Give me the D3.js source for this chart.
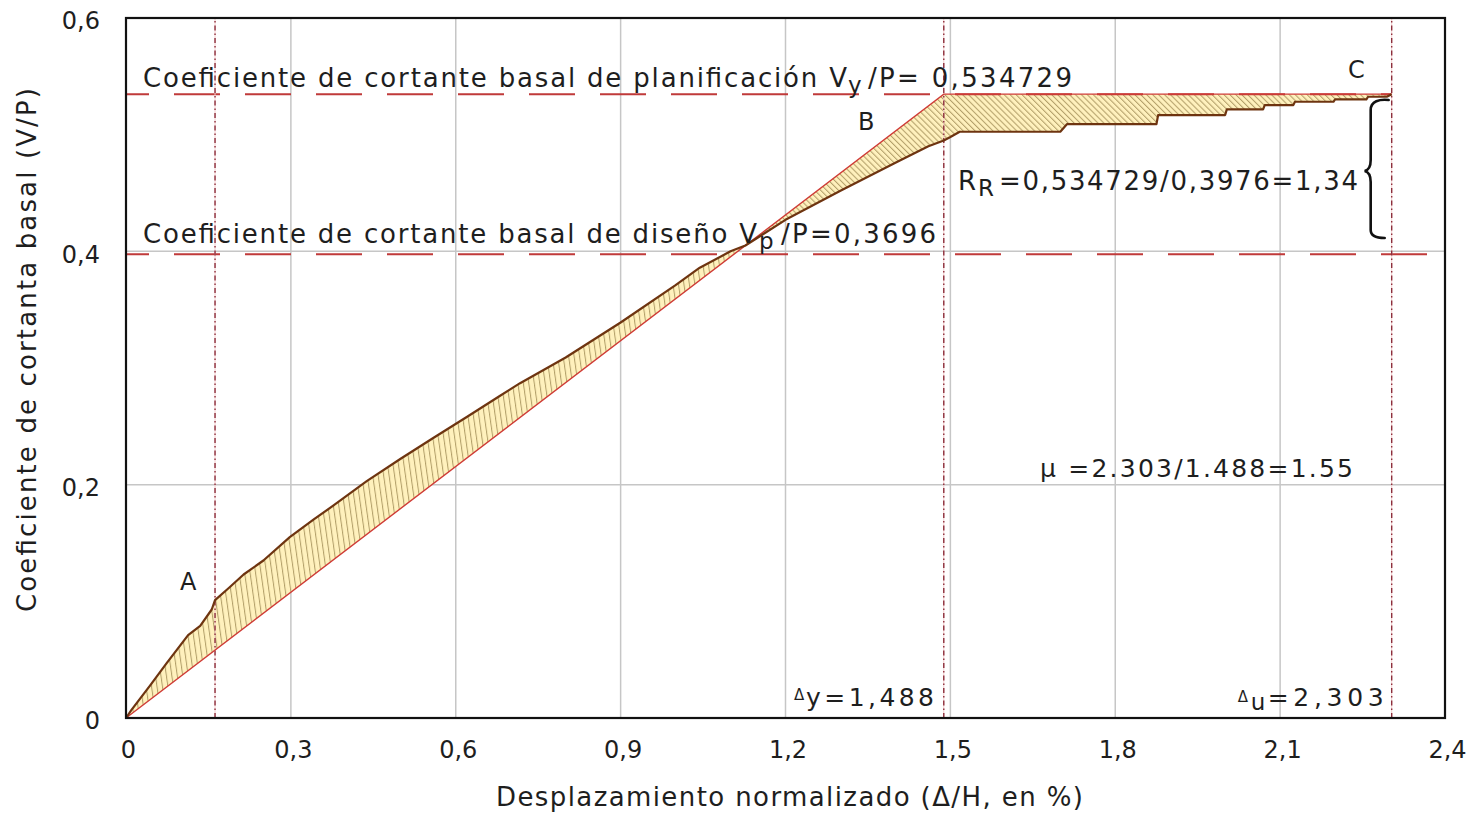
<!DOCTYPE html>
<html>
<head>
<meta charset="utf-8">
<script src="https://cdn.jsdelivr.net/npm/d3@7"></script>
<style>
  html, body { margin: 0; padding: 0; background: #ffffff; }
  svg { display: block; }
  text { font-family: "DejaVu Sans", Verdana, sans-serif; fill: #1e1e1e; }
</style>
</head>
<body>
<svg id="chart" width="1471" height="818"></svg>
<script>
// Capacity (pushover) curve: normalized roof drift (%) vs base-shear coefficient V/P
const driftPct = [0, 0.01, 0.044, 0.074, 0.113, 0.135, 0.156, 0.162, 0.186, 0.214, 0.25, 0.298,
  0.341, 0.377, 0.438, 0.499, 0.559, 0.62, 0.68, 0.717, 0.80, 0.90, 1.00, 1.044, 1.10, 1.127,
  1.20, 1.30, 1.40, 1.46, 1.488, 1.50, 1.517, 1.70, 1.712, 1.875, 1.878, 2.00, 2.003, 2.069,
  2.072, 2.124, 2.127, 2.197, 2.20, 2.257, 2.26, 2.294, 2.303];
const shearCoef = [0, 0.007, 0.028, 0.047, 0.071, 0.079, 0.093, 0.101, 0.111, 0.123, 0.135, 0.155,
  0.170, 0.182, 0.203, 0.222, 0.240, 0.258, 0.276, 0.287, 0.309, 0.339, 0.371, 0.386, 0.400, 0.405,
  0.427, 0.452, 0.476, 0.490, 0.495, 0.498, 0.5025, 0.5025, 0.509, 0.509, 0.5168, 0.5168, 0.5217, 0.5217,
  0.5254, 0.5254, 0.5282, 0.5282, 0.5303, 0.5303, 0.5325, 0.5325, 0.5347];

// Idealized bilinear curve
const bilinearDrift = [0, 1.488, 2.303];
const bilinearShear = [0, 0.534729, 0.534729];

// Reference levels
const pointADrift = 0.162;
const yieldDrift = 1.488;
const ultimateDrift = 2.303;
const planningCoef = 0.534729;
const designCoef = 0.3976;

// Axis ticks
const xTicks = [0, 0.3, 0.6, 0.9, 1.2, 1.5, 1.8, 2.1, 2.4];
const yTicks = [0, 0.2, 0.4, 0.6];

const svg = d3.select("#chart");
const x = d3.scaleLinear().domain([0, 2.4]).range([126, 1445]);
const y = d3.scaleLinear().domain([0, 0.6]).range([718, 18]);
const bilinear = d3.scaleLinear().domain(bilinearDrift).range(bilinearShear);

const commaFmt = d => d === 0 ? "0" : d.toFixed(1).replace(".", ",");

// ---- hatch patterns ----
const defs = svg.append("defs");
function hatch(id, angle, gap) {
  const p = defs.append("pattern")
    .attr("id", id).attr("patternUnits", "userSpaceOnUse")
    .attr("width", gap).attr("height", 20)
    .attr("patternTransform", `rotate(${angle})`);
  p.append("rect").attr("width", gap).attr("height", 20).attr("fill", "#fff1bd");
  p.append("line").attr("x1", 0.5).attr("x2", 0.5).attr("y1", 0).attr("y2", 20)
    .attr("stroke", "#b3a06a").attr("stroke-width", 1.1);
}
hatch("hatchSteep", -8, 5.4);
hatch("hatchDiag", -45, 4.2);

// ---- gridlines ----
const grid = svg.append("g");
grid.selectAll("line.vg").data(xTicks.filter(d => d > 0 && d < 2.4)).join("line")
  .attr("x1", d => x(d)).attr("x2", d => x(d)).attr("y1", y(0)).attr("y2", y(0.6))
  .attr("stroke", "#c6c6c6").attr("stroke-width", 1.5);
grid.selectAll("line.hg").data(yTicks.filter(d => d > 0 && d < 0.6)).join("line")
  .attr("x1", x(0)).attr("x2", x(2.4)).attr("y1", d => y(d)).attr("y2", d => y(d))
  .attr("stroke", "#c6c6c6").attr("stroke-width", 1.5);

// ---- area between capacity curve and bilinear idealization ----
const pts = driftPct.map((d, i) => ({ d, v: shearCoef[i], b: bilinear(d) }));
let crossDrift = yieldDrift;
for (let i = 1; i < pts.length; i++) {
  const a = pts[i - 1].v - pts[i - 1].b, c = pts[i].v - pts[i].b;
  if (a > 0 && c <= 0) {
    crossDrift = pts[i - 1].d + (pts[i].d - pts[i - 1].d) * a / (a - c);
    break;
  }
}
defs.append("clipPath").attr("id", "clipLow").append("rect")
  .attr("x", x(0)).attr("y", y(0.6)).attr("width", x(crossDrift) - x(0)).attr("height", y(0) - y(0.6));
defs.append("clipPath").attr("id", "clipHigh").append("rect")
  .attr("x", x(crossDrift)).attr("y", y(0.6)).attr("width", x(2.4) - x(crossDrift)).attr("height", y(0) - y(0.6));

const band = d3.area().x(p => x(p.d)).y0(p => y(p.b)).y1(p => y(p.v));
svg.append("path").datum(pts).attr("d", band).attr("fill", "url(#hatchSteep)").attr("clip-path", "url(#clipLow)");
svg.append("path").datum(pts).attr("d", band).attr("fill", "url(#hatchDiag)").attr("clip-path", "url(#clipHigh)");

// ---- horizontal reference levels (dashed) ----
svg.append("line")
  .attr("x1", x(0)).attr("x2", x(ultimateDrift)).attr("y1", y(planningCoef)).attr("y2", y(planningCoef))
  .attr("stroke", "#c03a3a").attr("stroke-width", 2).attr("stroke-dasharray", "46,25").attr("stroke-dashoffset", 23);
svg.append("line")
  .attr("x1", x(0)).attr("x2", x(2.4)).attr("y1", y(designCoef)).attr("y2", y(designCoef))
  .attr("stroke", "#c03a3a").attr("stroke-width", 2).attr("stroke-dasharray", "46,25").attr("stroke-dashoffset", 23);

// ---- vertical markers (dash-dot) ----
const vMarks = [pointADrift, yieldDrift, ultimateDrift];
svg.append("g").selectAll("line").data(vMarks).join("line")
  .attr("x1", d => x(d)).attr("x2", d => x(d)).attr("y1", y(0)).attr("y2", y(0.6))
  .attr("stroke", "#f3caca").attr("stroke-width", 1);
svg.append("g").selectAll("line").data(vMarks).join("line")
  .attr("x1", d => x(d)).attr("x2", d => x(d)).attr("y1", y(0)).attr("y2", y(0.6))
  .attr("stroke", "#8c2f3c").attr("stroke-width", 1.4).attr("stroke-dasharray", "5,3,1.5,3");

// ---- bilinear and capacity curve lines ----
const line = d3.line().x(p => x(p[0])).y(p => y(p[1]));
svg.append("path").datum(bilinearDrift.map((d, i) => [d, bilinearShear[i]]))
  .attr("d", line).attr("fill", "none").attr("stroke", "#cf3b36").attr("stroke-width", 1.4);
svg.append("path").datum(driftPct.map((d, i) => [d, shearCoef[i]]))
  .attr("d", line).attr("fill", "none").attr("stroke", "#6e3410").attr("stroke-width", 2.2)
  .attr("stroke-linejoin", "round");

// ---- frame ----
svg.append("rect").attr("x", x(0)).attr("y", y(0.6))
  .attr("width", x(2.4) - x(0)).attr("height", y(0) - y(0.6))
  .attr("fill", "none").attr("stroke", "#111").attr("stroke-width", 2.2);

// ---- axes ----
const xAxis = svg.append("g").attr("transform", `translate(0,${y(0)})`)
  .call(d3.axisBottom(x).tickValues(xTicks).tickFormat(commaFmt).tickSize(0).tickPadding(23));
xAxis.select(".domain").remove();
xAxis.selectAll("text").attr("font-size", 24).attr("font-family", "DejaVu Sans, Verdana, sans-serif")
  .attr("fill", "#1e1e1e").attr("dx", 2);

const yAxis = svg.append("g").attr("transform", `translate(${x(0)},0)`)
  .call(d3.axisLeft(y).tickValues(yTicks).tickFormat(commaFmt).tickSize(0).tickPadding(26));
yAxis.select(".domain").remove();
yAxis.selectAll("text").attr("font-size", 24).attr("font-family", "DejaVu Sans, Verdana, sans-serif")
  .attr("fill", "#1e1e1e").attr("dy", "0.45em");

// Axis titles
svg.append("text")
  .attr("x", 496).attr("y", 806)
  .attr("font-family", "'Liberation Sans', Arial, sans-serif")
  .attr("font-size", 26).attr("textLength", 587).attr("lengthAdjust", "spacing")
  .text("Desplazamiento normalizado (Δ/H, en %)");
svg.append("text")
  .attr("transform", "translate(36,350) rotate(-90)")
  .attr("text-anchor", "middle").attr("font-size", 26)
  .attr("textLength", 524).attr("lengthAdjust", "spacing")
  .text("Coeficiente de cortanta basal (V/P)");

// ---- annotations ----
function label(txt, px, py, opts = {}) {
  const t = svg.append("text").attr("x", px).attr("y", py)
    .attr("font-size", opts.size || 26).text(txt);
  if (opts.len) t.attr("textLength", opts.len).attr("lengthAdjust", "spacing");
  return t;
}
// planning level
label("Coeficiente de cortante basal de planificación V", 143, y(planningCoef) - 7, { len: 704 });
label("y", 848, y(planningCoef) - 1, { size: 23 });
label("/P= 0,534729", 868, y(planningCoef) - 7, { len: 204 });
// design level
label("Coeficiente de cortante basal de diseño V", 143, y(designCoef) - 11, { len: 614 });
label("p", 759, y(designCoef) - 5, { size: 23 });
label("/P=0,3696", 781, y(designCoef) - 11, { len: 155 });
// point labels
label("A", 180, 590, { size: 24 });
label("B", 858, 130, { size: 24 });
label("C", 1348, 78, { size: 24 });
// overstrength ratio
label("R", 958, 190);
label("R", 978, 196, { size: 23 });
label("=0,534729/0,3976=1,34", 999, 190, { len: 359 });
// ductility
label("μ =2.303/1.488=1.55", 1040, 477, { size: 25, len: 313 });
// drift labels
label("Δ", 794, 700, { size: 15 });
label("y=1,488", 806, 706, { size: 25, len: 128 });
label("Δ", x(ultimateDrift) - 154, 702, { size: 15 });
label("u", x(ultimateDrift) - 141, 710, { size: 23 });
label("=2,303", x(ultimateDrift) - 124, 706, { size: 25, len: 116 });

// brace marking the overstrength span
const xb = x(ultimateDrift);
const brace = d3.path();
brace.moveTo(xb - 3, 100);
brace.bezierCurveTo(xb - 12, 99, xb - 21, 101, xb - 21, 110);
brace.lineTo(xb - 21, 160);
brace.bezierCurveTo(xb - 21, 166, xb - 23, 170, xb - 27, 171);
brace.bezierCurveTo(xb - 23, 172, xb - 21, 176, xb - 21, 182);
brace.lineTo(xb - 21, 230);
brace.bezierCurveTo(xb - 21, 236, xb - 14, 238, xb - 7, 238);
svg.append("path").attr("d", brace.toString()).attr("fill", "none")
  .attr("stroke", "#111").attr("stroke-width", 2.6).attr("stroke-linecap", "round");
</script>
</body>
</html>
